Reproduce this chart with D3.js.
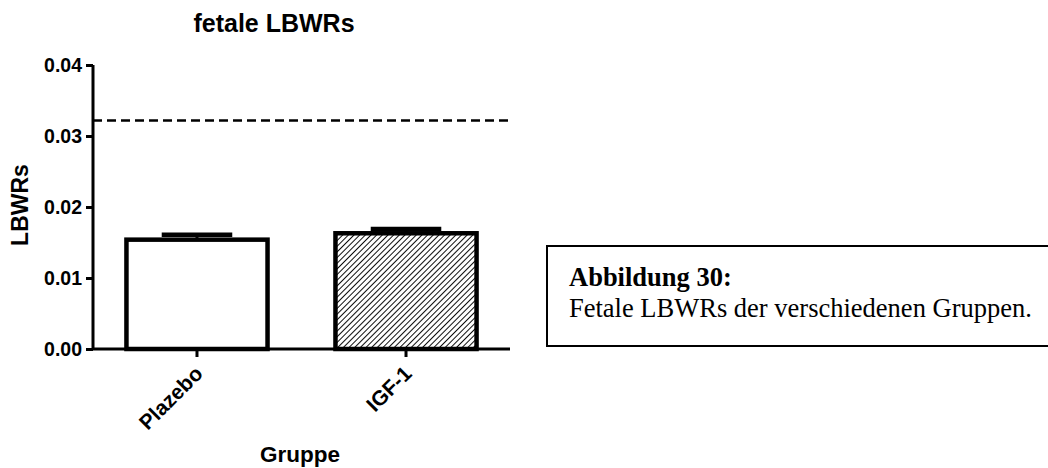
<!DOCTYPE html>
<html>
<head>
<meta charset="utf-8">
<script src="https://cdn.jsdelivr.net/npm/d3@7"></script>
<style>
  html, body { margin: 0; padding: 0; background: #fff; }
  svg { display: block; }
</style>
</head>
<body>
<svg id="chart" width="1048" height="468"></svg>
<script>
// Group means and SEM of fetal LBWR
const categories = ["Plazebo", "IGF-1"];
const means = [0.0154, 0.0163];
const sems = [0.0007, 0.0006];
const referenceValue = 0.0322;
const yTicks = [0, 0.01, 0.02, 0.03, 0.04];
const chartTitle = "fetale LBWRs";
const yTitle = "LBWRs";
const xTitle = "Gruppe";
const captionHead = "Abbildung 30:";
const captionBody = "Fetale LBWRs der verschiedenen Gruppen.";

const svg = d3.select("#chart");
const sans = "'Liberation Sans', Arial, Helvetica, sans-serif";
const serif = "'Liberation Serif', 'Times New Roman', Times, serif";

const x = d3.scaleBand()
  .domain(categories)
  .range([93, 510])
  .paddingInner(0.325)
  .paddingOuter(0.16);

const y = d3.scaleLinear()
  .domain([0, 0.04])
  .range([349, 65]);

// Diagonal hatching for the treatment group
const defs = svg.append("defs");
const pat = defs.append("pattern")
  .attr("id", "hatch")
  .attr("patternUnits", "userSpaceOnUse")
  .attr("width", 4)
  .attr("height", 4)
  .attr("patternTransform", "rotate(45)");
pat.append("rect").attr("width", 4).attr("height", 4).attr("fill", "#fff");
pat.append("line")
  .attr("x1", 0).attr("y1", 0).attr("x2", 0).attr("y2", 4)
  .attr("stroke", "#000").attr("stroke-width", 1.9);

const fills = ["#fff", "url(#hatch)"];

// Bars
svg.append("g")
  .selectAll("rect")
  .data(categories)
  .join("rect")
  .attr("x", d => x(d))
  .attr("y", (d, i) => y(means[i]))
  .attr("width", x.bandwidth())
  .attr("height", (d, i) => y(0) - y(means[i]))
  .attr("fill", (d, i) => fills[i])
  .attr("stroke", "#000")
  .attr("stroke-width", 4.5);

// Error bars (upper only)
const err = svg.append("g").attr("stroke", "#000");
err.selectAll("line.stem")
  .data(categories)
  .join("line")
  .attr("class", "stem")
  .attr("x1", d => x(d) + x.bandwidth() / 2)
  .attr("x2", d => x(d) + x.bandwidth() / 2)
  .attr("y1", (d, i) => y(means[i]))
  .attr("y2", (d, i) => y(means[i] + sems[i]))
  .attr("stroke-width", 3);
err.selectAll("line.cap")
  .data(categories)
  .join("line")
  .attr("class", "cap")
  .attr("x1", d => x(d) + x.bandwidth() * 0.25)
  .attr("x2", d => x(d) + x.bandwidth() * 0.75)
  .attr("y1", (d, i) => y(means[i] + sems[i]))
  .attr("y2", (d, i) => y(means[i] + sems[i]))
  .attr("stroke-width", 4.5);

// Reference line
svg.append("line")
  .attr("x1", 93).attr("x2", 512)
  .attr("y1", y(referenceValue)).attr("y2", y(referenceValue))
  .attr("stroke", "#000")
  .attr("stroke-width", 2.5)
  .attr("stroke-dasharray", "9,5");

// Y axis
const yAxis = svg.append("g")
  .attr("transform", "translate(93,0)")
  .call(d3.axisLeft(y).tickValues(yTicks).tickFormat(d3.format(".2f")).tickSize(7).tickPadding(4));
yAxis.select(".domain").attr("stroke-width", 3).attr("d", `M0,${y(0.04)}V${y(0)}`);
yAxis.selectAll(".tick line").attr("stroke-width", 3);
yAxis.selectAll(".tick text")
  .attr("font-family", sans).attr("font-weight", "bold").attr("font-size", 19.5).attr("fill", "#000");

// X axis
const xAxis = svg.append("g")
  .attr("transform", `translate(0,${y(0)})`)
  .call(d3.axisBottom(x).tickSize(8).tickPadding(4));
xAxis.select(".domain").attr("stroke-width", 3).attr("d", "M93,0H510");
xAxis.selectAll(".tick line").attr("stroke-width", 3);
xAxis.selectAll(".tick text")
  .attr("font-family", sans).attr("font-weight", "bold").attr("font-size", 21).attr("fill", "#000")
  .attr("text-anchor", "end")
  .attr("dy", null)
  .attr("y", null)
  .attr("transform", "translate(7,26) rotate(-45)");

// Titles
svg.append("text")
  .attr("x", 274).attr("y", 32)
  .attr("text-anchor", "middle")
  .attr("font-family", sans).attr("font-weight", "bold").attr("font-size", 25)
  .text(chartTitle);

svg.append("text")
  .attr("transform", "translate(28,205) rotate(-90)")
  .attr("text-anchor", "middle")
  .attr("font-family", sans).attr("font-weight", "bold").attr("font-size", 23)
  .text(yTitle);

svg.append("text")
  .attr("x", 300).attr("y", 462)
  .attr("text-anchor", "middle")
  .attr("font-family", sans).attr("font-weight", "bold").attr("font-size", 22.5)
  .text(xTitle);

// Caption box
const cap = svg.append("g");
cap.append("rect")
  .attr("x", 547).attr("y", 246)
  .attr("width", 520).attr("height", 100)
  .attr("fill", "none").attr("stroke", "#000").attr("stroke-width", 2);
cap.append("text")
  .attr("x", 569).attr("y", 286)
  .attr("font-family", serif).attr("font-weight", "bold").attr("font-size", 26.5)
  .text(captionHead);
cap.append("text")
  .attr("x", 569).attr("y", 317)
  .attr("font-family", serif).attr("font-size", 26.5)
  .text(captionBody);
</script>
</body>
</html>
